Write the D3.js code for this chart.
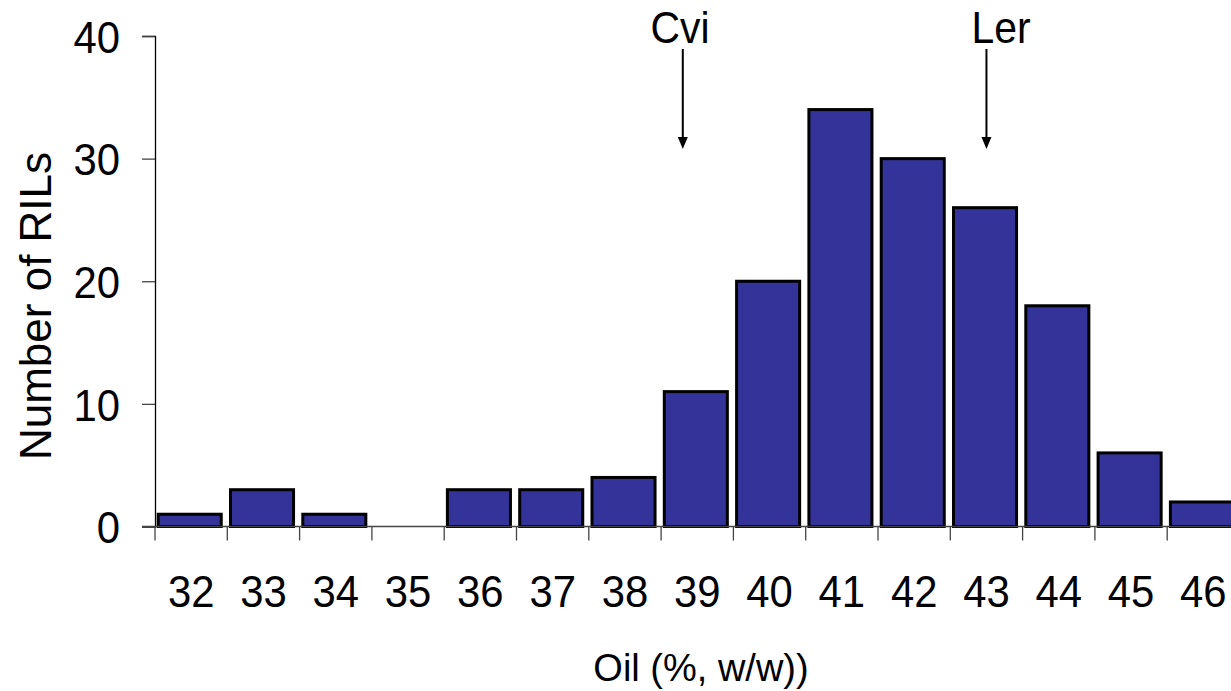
<!DOCTYPE html>
<html>
<head>
<meta charset="utf-8">
<script src="https://cdn.jsdelivr.net/npm/d3@7"></script>
<style>
  body { margin: 0; background: #fff; }
  svg text { font-family: "Liberation Sans", Arial, sans-serif; fill: #000; }
</style>
</head>
<body>
<div id="chart"></div>
<script>
// Chart data
//=================================
var oilClasses = ["32", "33", "34", "35", "36", "37", "38", "39", "40", "41", "42", "43", "44", "45", "46"];
var rilCounts = [1, 3, 1, 0, 3, 3, 4, 11, 20, 34, 30, 26, 18, 6, 2];
var yTicks = [0, 10, 20, 30, 40];
var parentNames = ["Cvi", "Ler"];
var parentOil = [38.8, 43.0];

// Set up the chart
//=================================
var svgWidth = 1231;
var svgHeight = 691;

var svg = d3.select("#chart")
  .append("svg")
  .attr("width", svgWidth)
  .attr("height", svgHeight);

var plotLeft = 155;
var bandStep = 72.3;
var zeroY = 526.5;
var topY = 36;
var squeeze = 0.93; // the original font is a bit narrow

var xScale = d3.scaleBand()
  .domain(oilClasses)
  .range([plotLeft, plotLeft + bandStep * oilClasses.length])
  .padding(0);

var yScale = d3.scaleLinear()
  .domain([0, 40])
  .range([zeroY, topY]);

// linear scale for pointing arrows at an oil value (class centres)
var oilScale = d3.scaleLinear()
  .domain([+oilClasses[0], +oilClasses[oilClasses.length - 1]])
  .range([xScale(oilClasses[0]) + xScale.bandwidth() / 2,
          xScale(oilClasses[oilClasses.length - 1]) + xScale.bandwidth() / 2]);

// bars
//=================================
var bars = oilClasses.map(function(c, i) { return { cls: c, n: rilCounts[i] }; });

svg.append("g")
  .selectAll("rect")
  .data(bars.filter(d => d.n > 0))
  .enter()
  .append("rect")
  .attr("x", d => xScale(d.cls) + 3.2)
  .attr("y", d => yScale(d.n))
  .attr("width", xScale.bandwidth() * 0.872)
  .attr("height", d => zeroY - yScale(d.n))
  .attr("fill", "#333399")
  .attr("stroke", "#000")
  .attr("stroke-width", 3);

// y axis
//=================================
var leftAxis = d3.axisLeft(yScale)
  .tickValues(yTicks)
  .tickSize(13)
  .tickPadding(22);

var yAxis = svg.append("g")
  .attr("transform", `translate(${plotLeft}, 0)`)
  .call(leftAxis);

yAxis.select(".domain").attr("stroke", "#000").attr("stroke-width", 1.3);
yAxis.selectAll(".tick line").attr("stroke", "#444").attr("stroke-width", 1.3);
yAxis.selectAll(".tick text")
  .attr("font-size", "45px")
  .attr("font-family", "Liberation Sans, Arial, sans-serif")
  .attr("x", -35 / squeeze)
  .attr("transform", `scale(${squeeze},1)`)
  .attr("dy", "0.36em");

// x axis line + boundary ticks
//=================================
svg.append("line")
  .attr("x1", plotLeft - 13)
  .attr("x2", svgWidth)
  .attr("y1", zeroY)
  .attr("y2", zeroY)
  .attr("stroke", "#444")
  .attr("stroke-width", 1.3);

svg.append("g")
  .selectAll("line")
  .data(oilClasses)
  .enter()
  .append("line")
  .attr("x1", d => xScale(d))
  .attr("x2", d => xScale(d))
  .attr("y1", zeroY)
  .attr("y2", zeroY + 14)
  .attr("stroke", "#444")
  .attr("stroke-width", 1.3);

// x labels
var bottomAxis = d3.axisBottom(xScale).tickSize(0).tickPadding(49);
var xAxis = svg.append("g")
  .attr("transform", `translate(0, ${zeroY})`)
  .call(bottomAxis);
xAxis.select(".domain").remove();
xAxis.selectAll(".tick text")
  .attr("font-size", "45px")
  .attr("font-family", "Liberation Sans, Arial, sans-serif")
  .attr("transform", `scale(${squeeze},1)`);

// axis titles
//=================================
svg.append("text")
  .attr("transform", "rotate(-90)")
  .attr("x", -306)
  .attr("y", 51)
  .attr("text-anchor", "middle")
  .attr("font-size", "44px")
  .text("Number of RILs");

svg.append("text")
  .attr("x", 701)
  .attr("y", 681)
  .attr("text-anchor", "middle")
  .attr("font-size", "38px")
  .text("Oil (%, w/w))");

// parent line arrows
//=================================
var labelX = [680, 1001];
parentNames.forEach(function(name, i) {
  var ax = oilScale(parentOil[i]);
  svg.append("text")
    .attr("x", labelX[i] / squeeze)
    .attr("y", 43)
    .attr("transform", `scale(${squeeze},1)`)
    .attr("text-anchor", "middle")
    .attr("font-size", "44px")
    .text(name);
  svg.append("line")
    .attr("x1", ax)
    .attr("x2", ax)
    .attr("y1", 49)
    .attr("y2", 140)
    .attr("stroke", "#000")
    .attr("stroke-width", 2);
  svg.append("path")
    .attr("d", `M${ax - 5},137 L${ax + 5},137 L${ax},149 Z`)
    .attr("fill", "#000");
});
</script>
</body>
</html>
